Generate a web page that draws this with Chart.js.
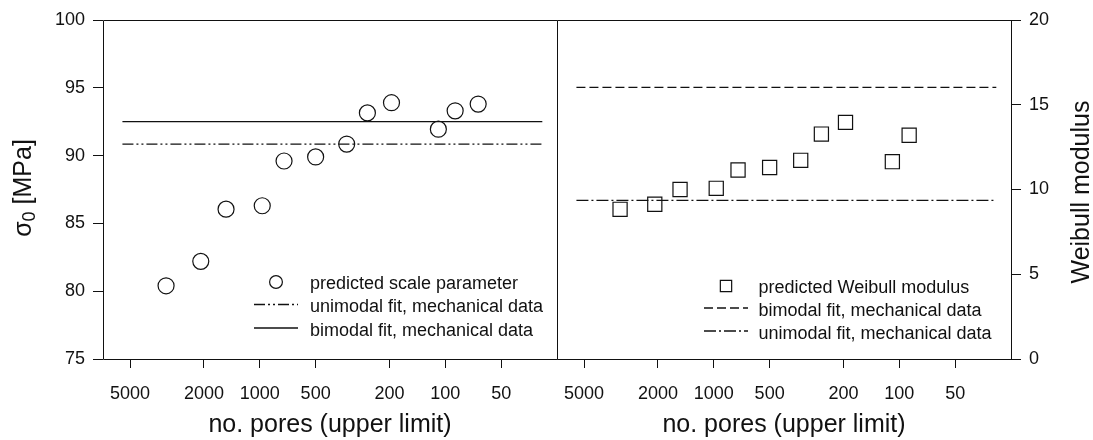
<!DOCTYPE html>
<html>
<head>
<meta charset="utf-8">
<script src="https://cdn.jsdelivr.net/npm/chart.js@4.4.0/dist/chart.umd.min.js"></script>
<style>
  html, body { margin: 0; padding: 0; background: #fff; }
  #wrap { position: relative; width: 1093px; height: 440px; overflow: hidden; }
  canvas { position: absolute; top: 0; }
  #left { left: 0; }
  #right { left: 553px; }
</style>
</head>
<body>
<div id="wrap">
  <canvas id="left" width="560" height="440"></canvas>
  <canvas id="right" width="540" height="440"></canvas>
</div>
<script>
// values
const poreLimits = [3200, 2080, 1520, 970, 740, 500, 340, 263, 195, 109, 88.5, 66.5];
const scaleParameter = [80.4, 82.2, 86.05, 86.3, 89.6, 89.9, 90.85, 93.15, 93.9, 91.95, 93.3, 93.8];
const weibullPores = [3200, 2080, 1520, 970, 740, 500, 340, 263, 195, 109, 88.5];
const weibullModulus = [8.83, 9.13, 10.0, 10.07, 11.15, 11.3, 11.72, 13.27, 13.96, 11.64, 13.2];
const fitRange = [5500, 30];
const scaleUnimodal = [90.85, 90.85];
const scaleBimodal = [92.5, 92.5];
const modulusBimodal = [16.03, 16.03];
const modulusUnimodal = [9.36, 9.36];
const poreTicks = [5000, 2000, 1000, 500, 200, 100, 50];
const scaleTicks = [75, 80, 85, 90, 95, 100];
const modulusTicks = [0, 5, 10, 15, 20];

const INK = '#111';
const FONT = '"Liberation Sans", Arial, sans-serif';
Chart.defaults.font.family = FONT;
Chart.defaults.color = INK;

function pts(xs, ys) {
  return xs.map((x, i) => ({ x: x, y: ys[i] }));
}

// frame of the panel, legend inside it and the rotated y title
const panelDecor = {
  id: 'panelDecor',
  beforeDatasetsDraw(chart, args, o) {
    const ctx = chart.ctx, a = chart.chartArea;
    const l = Math.round(a.left) + 0.5, r = Math.round(a.right) + 0.5;
    const t = Math.round(a.top) + 0.5, b = Math.round(a.bottom) + 0.5;
    ctx.save();
    ctx.strokeStyle = INK;
    ctx.lineWidth = 1;
    ctx.beginPath();
    ctx.moveTo(l, b); ctx.lineTo(r, b); ctx.lineTo(r, t); ctx.lineTo(l, t);
    if (o.leftEdge) ctx.lineTo(l, b);
    ctx.stroke();
    ctx.restore();
  },
  afterDraw(chart, args, o) {
    const ctx = chart.ctx, a = chart.chartArea;
    ctx.save();
    ctx.font = '18px ' + FONT;
    ctx.fillStyle = INK;
    ctx.textBaseline = 'middle';
    ctx.textAlign = 'left';
    o.legend.forEach((idx, i) => {
      const ds = chart.data.datasets[idx];
      const y = a.top + o.legendY[i];
      const mx = a.left + o.markerX;
      ctx.strokeStyle = ds.borderColor;
      ctx.lineWidth = ds.borderWidth;
      if (ds.showLine) {
        ctx.setLineDash(ds.borderDash || []);
        ctx.beginPath();
        ctx.moveTo(mx - 22, y - 3);
        ctx.lineTo(mx + 22, y - 3);
        ctx.stroke();
        ctx.setLineDash([]);
      } else {
        const r = ds.pointRadius * 0.8;
        ctx.beginPath();
        if (ds.pointStyle === 'rect') {
          const s = r * Math.SQRT1_2;
          ctx.rect(mx - s, y - 2 - s, 2 * s, 2 * s);
        } else {
          ctx.arc(mx, y - 2, r, 0, Math.PI * 2);
        }
        ctx.stroke();
      }
      ctx.fillText(ds.label, a.left + o.textX, y);
    });

    // y title, drawn by hand so the subscript works and it reads upwards on both sides
    ctx.translate(o.titleX, o.titleY);
    ctx.rotate(-Math.PI / 2);
    ctx.textBaseline = 'alphabetic';
    let w = 0;
    o.yTitle.forEach(p => { ctx.font = p.size + 'px ' + FONT; w += ctx.measureText(p.text).width; });
    let x = -w / 2;
    o.yTitle.forEach(p => {
      ctx.font = p.size + 'px ' + FONT;
      ctx.fillText(p.text, x, 9 + (p.dy || 0));
      x += ctx.measureText(p.text).width;
    });
    ctx.restore();
  }
};

function poreAxis() {
  return {
    type: 'logarithmic',
    reverse: true,
    min: 25,
    max: 7000,
    afterBuildTicks: s => { s.ticks = poreTicks.map(v => ({ value: v })); },
    afterFit: s => { s.height = 81; s.paddingLeft = 0; s.paddingRight = 0; },
    ticks: { autoSkip: false, maxRotation: 0, padding: 15, color: INK, font: { size: 18 }, callback: v => String(v) },
    grid: { drawOnChartArea: false, drawTicks: true, tickLength: 9, color: INK },
    border: { display: false },
    title: { display: true, text: 'no. pores (upper limit)', color: INK, font: { size: 25 }, padding: { top: 0, bottom: 0 } }
  };
}

function valueAxis(pos, min, max, tickList, width, pad) {
  return {
    type: 'linear',
    position: pos,
    min: min,
    max: max,
    afterBuildTicks: s => { s.ticks = tickList.map(v => ({ value: v })); },
    afterFit: s => { s.width = width; s.paddingTop = 0; s.paddingBottom = 0; },
    ticks: { padding: pad, color: INK, font: { size: 18 } },
    grid: { drawOnChartArea: false, drawTicks: true, tickLength: 10, color: INK },
    border: { display: false }
  };
}

const common = {
  responsive: false,
  animation: false,
  events: [],
  plugins: { legend: { display: false }, tooltip: { enabled: false } }
};

new Chart(document.getElementById('left'), {
  type: 'scatter',
  data: {
    datasets: [{
      label: 'predicted scale parameter',
      data: pts(poreLimits, scaleParameter),
      pointStyle: 'circle',
      pointRadius: 8,
      borderColor: INK,
      borderWidth: 1.2,
      backgroundColor: 'rgba(0,0,0,0)'
    }, {
      label: 'bimodal fit, mechanical data',
      data: pts(fitRange, scaleBimodal),
      showLine: true,
      pointRadius: 0,
      borderColor: INK,
      borderWidth: 1.3
    }, {
      label: 'unimodal fit, mechanical data',
      data: pts(fitRange, scaleUnimodal),
      showLine: true,
      pointRadius: 0,
      borderColor: INK,
      borderWidth: 1.3,
      borderDash: [11, 3, 2, 3, 2, 3]
    }]
  },
  options: {
    ...common,
    layout: { autoPadding: false, padding: { left: 0, right: 3, top: 20, bottom: 0 } },
    scales: {
      x: poreAxis(),
      y: valueAxis('left', 75, 100, scaleTicks, 103, 8)
    },
    plugins: {
      ...common.plugins,
      panelDecor: {
        leftEdge: true,
        legend: [0, 2, 1],
        legendY: [264, 287.5, 311],
        markerX: 173,
        textX: 207,
        titleX: 22,
        titleY: 188,
        yTitle: [{ text: 'σ', size: 25 }, { text: '0', size: 18, dy: 4 }, { text: ' [MPa]', size: 25 }]
      }
    }
  },
  plugins: [panelDecor]
});

new Chart(document.getElementById('right'), {
  type: 'scatter',
  data: {
    datasets: [{
      label: 'predicted Weibull modulus',
      data: pts(weibullPores, weibullModulus),
      pointStyle: 'rect',
      pointRadius: 10,
      borderColor: INK,
      borderWidth: 1.2,
      backgroundColor: 'rgba(0,0,0,0)'
    }, {
      label: 'bimodal fit, mechanical data',
      data: pts(fitRange, modulusBimodal),
      showLine: true,
      pointRadius: 0,
      borderColor: INK,
      borderWidth: 1.3,
      borderDash: [9, 4]
    }, {
      label: 'unimodal fit, mechanical data',
      data: pts(fitRange, modulusUnimodal),
      showLine: true,
      pointRadius: 0,
      borderColor: INK,
      borderWidth: 1.3,
      borderDash: [12, 3, 2, 3]
    }]
  },
  options: {
    ...common,
    layout: { autoPadding: false, padding: { left: 4, right: 0, top: 20, bottom: 0 } },
    scales: {
      x: poreAxis(),
      y: valueAxis('right', 0, 20, modulusTicks, 82, 8)
    },
    plugins: {
      ...common.plugins,
      panelDecor: {
        leftEdge: false,
        legend: [0, 1, 2],
        legendY: [268, 291, 314],
        markerX: 169,
        textX: 201.5,
        titleX: 527,
        titleY: 192,
        yTitle: [{ text: 'Weibull modulus', size: 25 }]
      }
    }
  },
  plugins: [panelDecor]
});
</script>
</body>
</html>
